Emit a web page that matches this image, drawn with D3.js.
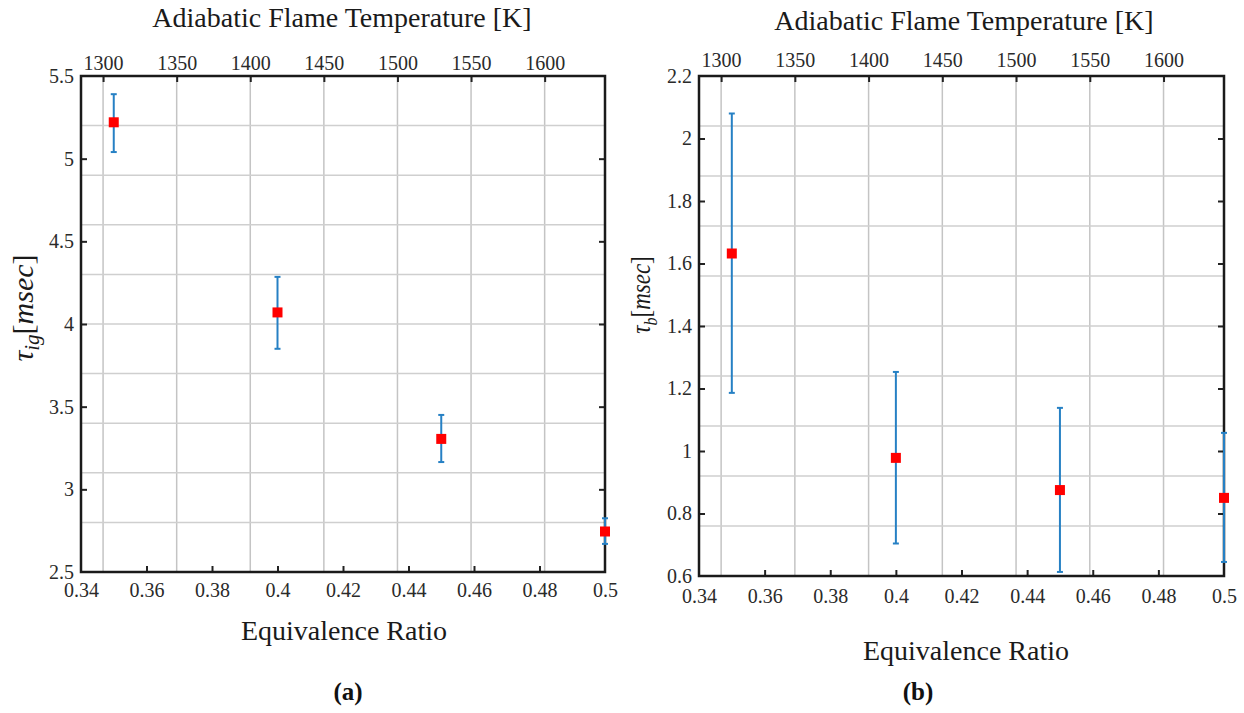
<!DOCTYPE html>
<html lang="en">
<head>
    <meta charset="UTF-8">
    <title></title>
    <style type="text/css">
        html, body { padding:0; margin:0; background:#fff; }
        svg, svg text { font-family: 'Times New Roman', 'Liberation Serif', Times, serif !important; }
    </style>
</head>
<body>
<script src="https://d3js.org/d3.v7.min.js"></script>
<script>
    // equivalence ratio (bottom axis) and flame temperature (top axis)
    var phi = [0.35, 0.40, 0.45, 0.50];
    var phiTicks = [0.34, 0.36, 0.38, 0.40, 0.42, 0.44, 0.46, 0.48, 0.50];
    var tempTicks = [1300, 1350, 1400, 1450, 1500, 1550, 1600];

    // (a) ignition delay
    var tauIg = [5.22, 4.07, 3.305, 2.745];
    var tauIgHi = [5.39, 4.285, 3.45, 2.825];
    var tauIgLo = [5.04, 3.85, 3.165, 2.67];
    var tauIgTicks = [2.5, 3, 3.5, 4, 4.5, 5, 5.5];
    var tauIgGrid = [2.8, 3.1, 3.4, 3.7, 4.0, 4.3, 4.6, 4.9, 5.2];

    // (b) burn duration
    var tauB = [1.632, 0.978, 0.875, 0.85];
    var tauBHi = [2.08, 1.253, 1.138, 1.058];
    var tauBLo = [1.186, 0.704, 0.613, 0.645];
    var tauBTicks = [0.6, 0.8, 1.0, 1.2, 1.4, 1.6, 1.8, 2.0, 2.2];
    var tauBGrid = [0.76, 0.92, 1.08, 1.24, 1.40, 1.56, 1.72, 1.88, 2.04];

    var svg = d3.select('body').append('svg')
        .attr('width', 1244)
        .attr('height', 713);

    function panel(o) {
        var x = d3.scaleLinear().domain([0.34, 0.5]).range([o.left, o.right]);
        var t = d3.scaleLinear().domain([1285, 1641]).range([o.left, o.right]);
        var y = d3.scaleLinear().domain(o.yDomain).range([o.bottom, o.top]);
        var g = svg.append('g');

        // grid: vertical lines follow the temperature ticks
        g.selectAll('.vg').data(tempTicks).enter().append('line')
            .attr('x1', function(d) { return t(d); })
            .attr('x2', function(d) { return t(d); })
            .attr('y1', o.top).attr('y2', o.bottom)
            .attr('stroke', '#c4c4c4').attr('stroke-width', 1.5);
        g.selectAll('.hg').data(o.grid).enter().append('line')
            .attr('x1', o.left).attr('x2', o.right)
            .attr('y1', function(d) { return y(d); })
            .attr('y2', function(d) { return y(d); })
            .attr('stroke', '#cfcfcf').attr('stroke-width', 1.5);

        // axes
        var fmt = d3.format('~g');
        var bottom = g.append('g').attr('transform', 'translate(0,' + o.bottom + ')')
            .call(d3.axisBottom(x).tickValues(phiTicks).tickFormat(fmt).tickSizeInner(-6).tickSizeOuter(0).tickPadding(o.padB));
        var top = g.append('g').attr('transform', 'translate(0,' + o.top + ')')
            .call(d3.axisTop(t).tickValues(tempTicks).tickFormat(d3.format('d')).tickSizeInner(-6).tickSizeOuter(0).tickPadding(o.padT));
        var left = g.append('g').attr('transform', 'translate(' + o.left + ',0)')
            .call(d3.axisLeft(y).tickValues(o.ticks).tickFormat(fmt).tickSizeInner(-6).tickSizeOuter(0).tickPadding(7));
        var right = g.append('g').attr('transform', 'translate(' + o.right + ',0)')
            .call(d3.axisRight(y).tickValues(o.ticks).tickFormat('').tickSizeInner(-6).tickSizeOuter(0));

        [bottom, top, left, right].forEach(function(a) {
            a.attr('font-family', null);
            a.select('.domain').remove();
            a.selectAll('.tick line').attr('stroke', '#222').attr('stroke-width', 2);
            a.selectAll('.tick text').attr('fill', '#2a2a2a').style('font-size', '20px');
        });
        // drop tick marks that sit on the box corners
        left.selectAll('.tick').filter(function(d, i) { return i === 0 || i === o.ticks.length - 1; }).select('line').remove();
        right.selectAll('.tick').filter(function(d, i) { return i === 0 || i === o.ticks.length - 1; }).select('line').remove();
        bottom.selectAll('.tick').filter(function(d, i) { return i === 0 || i === phiTicks.length - 1; }).select('line').remove();

        g.append('rect')
            .attr('x', o.left).attr('y', o.top)
            .attr('width', o.right - o.left).attr('height', o.bottom - o.top)
            .attr('fill', 'none').attr('stroke', '#1a1a1a').attr('stroke-width', 2.5);

        // error bars
        var pts = phi.map(function(p, i) { return { x: p, v: o.values[i], hi: o.hi[i], lo: o.lo[i] }; });
        var eb = g.selectAll('.eb').data(pts).enter().append('g').attr('stroke', '#2680c4').attr('stroke-width', 2);
        eb.append('line')
            .attr('x1', function(d) { return x(d.x); }).attr('x2', function(d) { return x(d.x); })
            .attr('y1', function(d) { return y(d.hi); }).attr('y2', function(d) { return y(d.lo); });
        eb.append('line')
            .attr('x1', function(d) { return x(d.x) - 3; }).attr('x2', function(d) { return x(d.x) + 3; })
            .attr('y1', function(d) { return y(d.hi); }).attr('y2', function(d) { return y(d.hi); });
        eb.append('line')
            .attr('x1', function(d) { return x(d.x) - 3; }).attr('x2', function(d) { return x(d.x) + 3; })
            .attr('y1', function(d) { return y(d.lo); }).attr('y2', function(d) { return y(d.lo); });

        g.selectAll('.mk').data(pts).enter().append('rect')
            .attr('x', function(d) { return x(d.x) - 5; })
            .attr('y', function(d) { return y(d.v) - 5; })
            .attr('width', 10).attr('height', 10)
            .attr('fill', '#ff0000');

        // labels
        g.append('text').attr('x', o.titleX).attr('y', o.titleY).attr('text-anchor', 'middle')
            .style('font-size', '28px').attr('fill', '#1a1a1a').text('Adiabatic Flame Temperature [K]');
        g.append('text').attr('x', o.titleX + 2).attr('y', o.xLabelY).attr('text-anchor', 'middle')
            .style('font-size', '28px').attr('fill', '#1a1a1a').text('Equivalence Ratio');

        var yl = g.append('text')
            .attr('transform', 'translate(' + o.yLabelX + ',' + o.yLabelY + ') rotate(-90) scale(1,' + o.yLabelStretch + ')')
            .attr('text-anchor', 'middle').attr('fill', '#1a1a1a')
            .style('font-size', o.yLabelSize + 'px').style('font-style', 'italic');
        yl.append('tspan').text('\u03c4');
        yl.append('tspan').attr('dy', 6).style('font-size', (o.yLabelSize * 0.7) + 'px').text(o.sub);
        yl.append('tspan').attr('dy', -6).style('font-style', 'normal').text('[');
        yl.append('tspan').text('msec');
        yl.append('tspan').style('font-style', 'normal').text(']');

        svg.append('text').attr('x', o.capX).attr('y', 700).attr('text-anchor', 'middle')
            .style('font-size', '25px').style('font-weight', 'bold').attr('fill', '#111').text(o.caption);
    }

    panel({
        left: 81, right: 605, top: 76, bottom: 572,
        yDomain: [2.5, 5.5], ticks: tauIgTicks, grid: tauIgGrid,
        values: tauIg, hi: tauIgHi, lo: tauIgLo,
        padB: 11, padT: 6,
        titleX: 342, titleY: 27, xLabelY: 640,
        sub: 'ig', yLabelX: 33, yLabelY: 308, yLabelSize: 30, yLabelStretch: 1,
        caption: '(a)', capX: 348
    });

    panel({
        left: 699, right: 1224, top: 76, bottom: 576,
        yDomain: [0.6, 2.2], ticks: tauBTicks, grid: tauBGrid,
        values: tauB, hi: tauBHi, lo: tauBLo,
        padB: 13, padT: 9,
        titleX: 964, titleY: 30, xLabelY: 660,
        sub: 'b', yLabelX: 650, yLabelY: 295, yLabelSize: 23, yLabelStretch: 1.2,
        caption: '(b)', capX: 918
    });
</script>
</body>
</html>
